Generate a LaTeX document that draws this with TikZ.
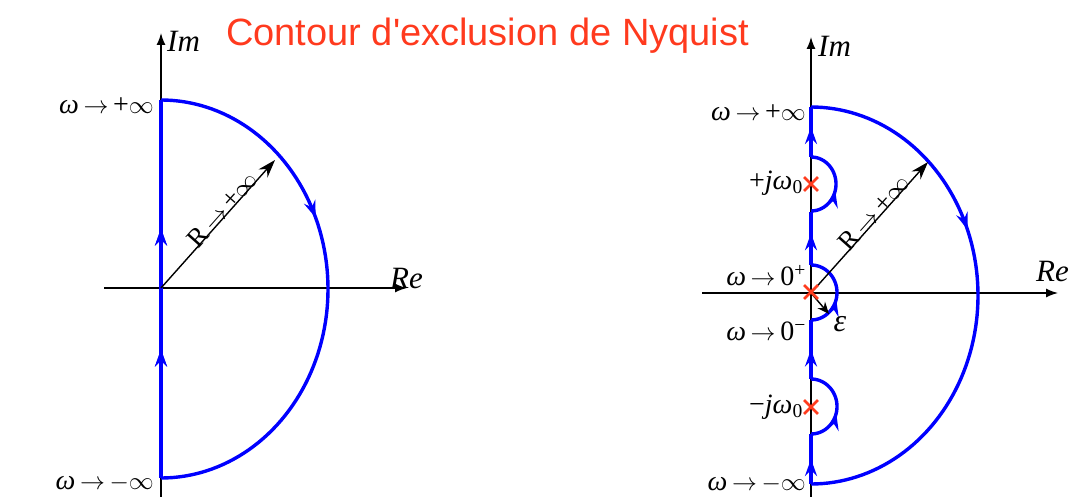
\documentclass[tikz,border=0pt]{standalone}
\usepackage{fontspec}
\setmainfont{Liberation Serif}
\newfontfamily\titlefont{Liberation Sans}
\usetikzlibrary{arrows.meta,decorations.markings,shapes.misc}
\definecolor{titlered}{RGB}{255,58,30}
\definecolor{contourblue}{RGB}{0,0,255}
\definecolor{polered}{RGB}{255,60,30}
\newcommand{\omto}[1]{\textit{ω}\,$\rightarrow$\,#1}
\tikzset{
  axisline/.style={line width=1.4pt, -{Latex[length=12pt,width=9pt]}},
  contour/.style={draw=contourblue, color=contourblue, line width=3.4pt, line join=round},
  midarrow/.style={postaction={decorate}, decoration={markings, mark=at position #1 with {\arrow{Stealth[length=17pt,width=12pt,inset=6pt]}}}},
  radiusarrow/.style={line width=1.4pt, -{Stealth[length=18pt,width=12pt,inset=6pt]}},
  lbl/.style={font=\fontsize{28}{30}\selectfont, inner sep=0pt},
  rlbl/.style={font=\fontsize{27}{30}\selectfont, inner sep=0pt, sloped, anchor=south, yshift=-3pt},
  axlbl/.style={font=\fontsize{31}{34}\selectfont\itshape, inner sep=0pt},
  pole/.style={draw=polered, cross out, line width=2.8pt, minimum size=11pt, inner sep=0pt},
}
\begin{document}
\begin{tikzpicture}[x=1pt,y=-1pt]
\useasboundingbox (0,0) rectangle (1075,497);
% title
\node[font=\titlefont\fontsize{38}{42}\selectfont, text=titlered, anchor=base, inner sep=0pt] (title) at (487.5,46) {Contour d'exclusion de Nyquist};

% ===== left diagram =====
\coordinate (O1) at (161,288);
\coordinate (ImL0) at (161,497);
\coordinate (ImL1) at (161,33);
\coordinate (ReL0) at (104,288);
\coordinate (ReL1) at (407,288);
\draw[axisline] (ImL0) -- (ImL1);
\draw[axisline] (ReL0) -- (ReL1);
\node[axlbl, anchor=west] (imL) at (167,41) {Im};
\node[axlbl, anchor=west] (reL) at (390,279) {Re};
\coordinate (L0) at (161,478);
\coordinate (L1) at (161,100);
\draw[contour, midarrow=0.34, midarrow=0.66] (L0) -- (L1);
\draw[contour, midarrow=0.37] plot[domain=-90:90, samples=91] ({161+167*cos(\x)},{289+189*sin(\x)});
\coordinate (TL) at (275,160);
\draw[radiusarrow] (O1) -- node[rlbl, pos=0.58] (RL) {R\,$\rightarrow$\,+$\infty$} (TL);
\node[lbl, anchor=east] (wpL) at (154,106) {\omto{+$\infty$}};
\node[lbl, anchor=east] (wmL) at (154,483) {\omto{$-\infty$}};

% ===== right diagram =====
\coordinate (O2) at (811,293);
\coordinate (ImR0) at (811,497);
\coordinate (ImR1) at (811,37);
\coordinate (ReR0) at (702,293);
\coordinate (ReR1) at (1058,293);
\draw[axisline] (ImR0) -- (ImR1);
\draw[axisline] (ReR0) -- (ReR1);
\node[axlbl, anchor=west] (imR) at (818,46) {Im};
\node[axlbl, anchor=west] (reR) at (1036,272) {Re};
% vertical segments
\draw[contour, midarrow=0.5] (811,484) -- (811,434);
\draw[contour, midarrow=0.5] (811,379) -- (811,320);
\draw[contour, midarrow=0.6] (811,265) -- (811,212);
\draw[contour, midarrow=0.6] (811,157) -- (811,107);
% indentations
\draw[contour, midarrow=0.42] plot[domain=90:-90, samples=37] ({811+26*cos(\x)},{406.5+27.5*sin(\x)});
\draw[contour, midarrow=0.42] plot[domain=90:-90, samples=37] ({811+26*cos(\x)},{292.5+27.5*sin(\x)});
\draw[contour, midarrow=0.42] plot[domain=90:-90, samples=37] ({811+25*cos(\x)},{184+27*sin(\x)});
% big arc
\draw[contour, midarrow=0.38] plot[domain=-90:90, samples=91] ({811+167*cos(\x)},{295.5+188.5*sin(\x)});
% radius and epsilon
\coordinate (TR) at (928,162);
\draw[radiusarrow] (O2) -- node[rlbl, pos=0.58] (RR) {R\,$\rightarrow$\,+$\infty$} (TR);
\coordinate (EPS) at (829,314);
\draw[line width=1.4pt, -{Stealth[length=12pt,width=10pt,inset=4pt]}] (O2) -- (EPS);
\node[lbl, font=\fontsize{32}{34}\selectfont\itshape] (epsl) at (840,324) {ε};
% poles
\node[pole] (p1) at (811,184) {};
\node[pole] (p0) at (811,292) {};
\node[pole] (p2) at (811,407) {};
% labels
\node[lbl, anchor=east] (wpR) at (806,113) {\omto{+$\infty$}};
\node[lbl, anchor=east] (jpR) at (803,183) {+\textit{jω}\textsubscript{0}};
\node[lbl, anchor=east] (zpR) at (806,276) {\omto{0\textsuperscript{+}}};
\node[lbl, anchor=east] (zmR) at (806,331) {\omto{0\textsuperscript{−}}};
\node[lbl, anchor=east] (jmR) at (803,407) {−\textit{jω}\textsubscript{0}};
\node[lbl, anchor=east] (wmR) at (806,484) {\omto{$-\infty$}};
\end{tikzpicture}
\end{document}
